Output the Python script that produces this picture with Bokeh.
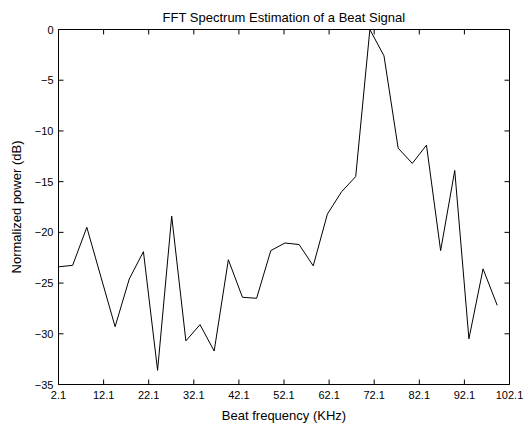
from bokeh.plotting import figure
from bokeh.models import Range1d, FixedTicker
from bokeh.embed import file_html
from bokeh.resources import INLINE

freq_khz = [2.1, 5.24, 8.38, 11.51, 14.65, 17.79, 20.93, 24.07, 27.2, 30.34,
            33.48, 36.62, 39.76, 42.89, 46.03, 49.17, 52.31, 55.45, 58.58, 61.72,
            64.86, 68.0, 71.14, 74.27, 77.41, 80.55, 83.69, 86.83, 89.96, 93.1,
            96.24, 99.38]
power_db = [-23.4, -23.25, -19.5, -24.4, -29.3, -24.6, -21.9, -33.6, -18.4, -30.7,
            -29.1, -31.7, -22.7, -26.4, -26.5, -21.8, -21.05, -21.2, -23.3, -18.2,
            -16.0, -14.5, 0.0, -2.6, -11.7, -13.2, -11.4, -21.8, -13.9, -30.5,
            -23.6, -27.2]
x_ticks = [2.1, 12.1, 22.1, 32.1, 42.1, 52.1, 62.1, 72.1, 82.1, 92.1, 102.1]
y_ticks = [0, -5, -10, -15, -20, -25, -30, -35]
x_min, x_max = 2.1, 102.1
y_min, y_max = -35, 0
title_text = "FFT Spectrum Estimation of a Beat Signal"

FONT = "Liberation Sans"
W, H = 531, 427
BL, BR, BT, BB = 58, 22, 29, 43
TICK_PX = 5

p = figure(width=W, height=H, output_backend="svg", toolbar_location=None,
           x_range=Range1d(x_min, x_max), y_range=Range1d(y_min, y_max),
           min_border_left=BL, min_border_right=BR, min_border_top=BT, min_border_bottom=BB,
           title=title_text)
p.title.align = "center"
p.title.vertical_align = "middle"
p.title.text_font = FONT
p.title.text_font_size = "13px"
p.title.text_font_style = "normal"
p.title.text_color = "black"
p.title.standoff = 8

p.xgrid.visible = False
p.ygrid.visible = False
p.outline_line_color = "black"
p.outline_line_width = 1
p.background_fill_color = "white"
p.border_fill_color = "white"

p.line(freq_khz, power_db, line_color="black", line_width=1)

# inward tick marks on all four sides, length converted from pixels to data units
dx = TICK_PX * (x_max - x_min) / (W - BL - BR)
dy = TICK_PX * (y_max - y_min) / (H - BT - BB)
n = len(x_ticks)
m = len(y_ticks)
tick_style = dict(line_color="black", line_width=1)
p.segment(x_ticks, [y_min] * n, x_ticks, [y_min + dy] * n, **tick_style)
p.segment(x_ticks, [y_max] * n, x_ticks, [y_max - dy] * n, **tick_style)
p.segment([x_min] * m, y_ticks, [x_min + dx] * m, y_ticks, **tick_style)
p.segment([x_max] * m, y_ticks, [x_max - dx] * m, y_ticks, **tick_style)

def style(ax):
    ax.axis_line_color = "black"
    ax.major_tick_in = 0
    ax.major_tick_out = 0
    ax.minor_tick_line_color = None
    ax.major_tick_line_color = None
    ax.major_label_text_font = FONT
    ax.major_label_text_font_size = "11px"
    ax.major_label_text_color = "black"
    ax.axis_label_text_font = FONT
    ax.axis_label_text_font_size = "13px"
    ax.axis_label_text_font_style = "normal"
    ax.axis_label_text_color = "black"

xa = p.xaxis[0]
xa.ticker = FixedTicker(ticks=x_ticks)
xa.major_label_overrides = {t: str(t) for t in x_ticks}
xa.axis_label = "Beat frequency (KHz)"
xa.major_label_standoff = 6
xa.axis_label_standoff = 6
style(xa)

ya = p.yaxis[0]
ya.ticker = FixedTicker(ticks=y_ticks)
ya.axis_label = "Normalized power (dB)"
ya.major_label_standoff = 5
ya.axis_label_standoff = 8
style(ya)

open("out.html", "w").write(file_html(p, INLINE))
